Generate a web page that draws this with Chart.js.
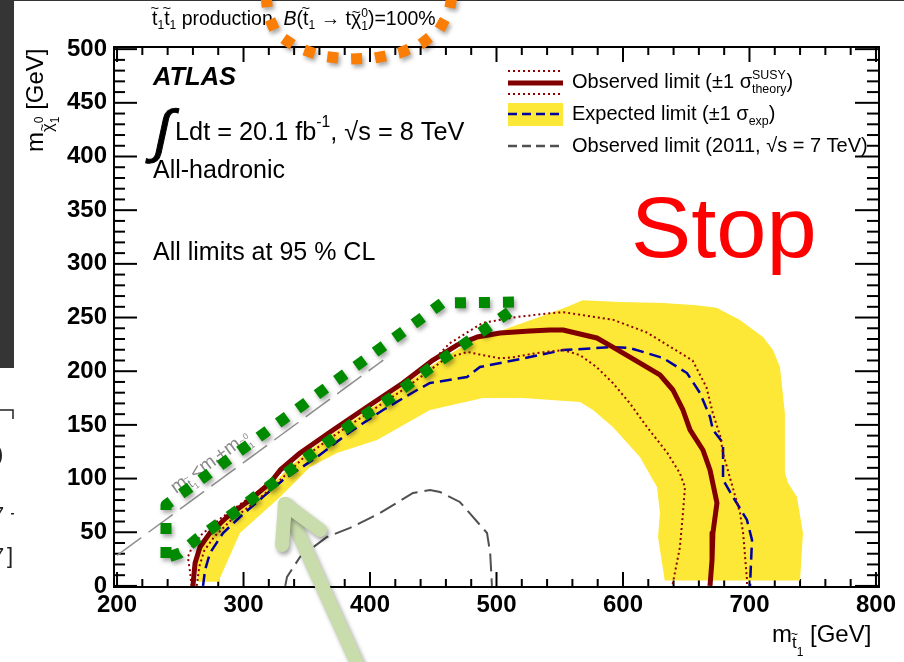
<!DOCTYPE html>
<html>
<head>
<meta charset="utf-8">
<script src="https://cdn.jsdelivr.net/npm/chart.js@4/dist/chart.umd.min.js"></script>
<style>
  html, body { margin: 0; padding: 0; background: #fff; overflow: hidden; }
  canvas { display: block; }
</style>
</head>
<body>
<canvas id="c" width="904" height="662"></canvas>
<script>
// Stop-pair search, all-hadronic channel: exclusion contours in the (m_stop, m_LSP) plane [GeV]

// Observed limit
const obsMass = [260, 261.7, 265.6, 273.5, 287, 305, 321, 329, 344.7, 370.8, 397.6, 426, 449.8, 468.8, 484.6, 502.8, 526.5, 542.3, 552.6, 579.4, 592, 605.5, 629.2, 639.5, 647.4, 653, 663.2, 668.8, 674.3, 671.1, 670.4, 668.8];
const obsLsp  = [0, 21.4, 36.3, 49.4, 64.2, 80.1, 95.9, 108, 123.8, 145.3, 166.7, 189, 210.4, 224.4, 231.8, 235.6, 237.4, 238.4, 238.4, 230.9, 222.5, 213.2, 196.5, 182.5, 163.9, 145.3, 126.6, 108, 77.3, 49.3, 24.2, 0];

// Observed limit, +1 sigma (theory)
const obsUpMass = [259, 257.5, 256, 260, 267, 282, 302, 320, 342, 368, 396, 425, 449, 463, 489, 516, 542, 553, 592, 619, 655, 666, 671, 677, 679, 685, 692.5, 695, 698, 698];
const obsUpLsp  = [0, 15, 27, 38, 48, 63, 80, 95, 121, 143, 165, 188, 209, 226, 245, 250.5, 254, 255, 248, 236, 210, 185, 161, 139, 124, 99, 68, 49, 6, 0];

// Observed limit, -1 sigma (theory)
const obsDnMass = [263, 265, 269, 277, 290, 308, 324, 348, 374, 401, 429, 452, 460, 477, 489, 503, 513, 532, 553, 566, 579, 592, 605.5, 619, 635, 645, 649, 647.4, 645, 640, 639];
const obsDnLsp  = [0, 18, 33, 46, 61, 77, 93, 120, 142, 163, 185, 205, 212, 218, 215, 212, 213, 217, 219.7, 215, 204, 189, 170, 148, 124, 105, 92, 68, 36, 6, 0];

// Expected limit
const expMass = [268, 269.6, 273.5, 283.8, 297.2, 315.4, 331.2, 358.1, 384.2, 410.3, 437.2, 447.4, 476.7, 486.9, 526.5, 552.6, 592, 605.5, 631.6, 650.6, 660.9, 668.8, 671.1, 679.1, 679.1, 687, 698, 702, 700.4];
const expLsp  = [0, 14.9, 30.7, 49.3, 64.2, 82.9, 98.7, 120.1, 143.4, 163.9, 182.5, 189, 194.6, 203.9, 213.2, 219.7, 222.5, 221.6, 212.3, 198.3, 179.7, 157.4, 145.3, 133.1, 98.7, 82.9, 61.5, 42.8, 0];

// Expected limit +-1 sigma band: outer edge, then inner edge running back
const bandOuterMass = [264, 263, 267, 275, 288, 306, 322, 346, 372, 399, 427, 451, 470, 486, 511, 534, 556, 568, 598, 632, 658, 674, 692.5, 710.7, 718.6, 724.1, 728, 728, 730.4, 737.5, 742.3, 740];
const bandOuterLsp  = [4, 20, 35, 48, 62, 78, 94, 121, 143, 164, 187, 207, 221, 230, 241, 250.5, 260, 266, 264.5, 263.5, 261.5, 259, 247.7, 231.8, 219.7, 203.9, 161, 106, 96, 83, 49.3, 5];
const bandInnerMass = [633, 627.7, 629.2, 626.9, 613.4, 592, 576.3, 566, 520.9, 489.3, 447.4, 405.5, 373.9, 352.6, 328.9, 297.2, 281.4, 281];
const bandInnerLsp  = [5, 45.6, 68, 92.2, 120.1, 148, 163.9, 171.3, 175, 175, 163.9, 135.9, 123.8, 110.8, 82.9, 49.3, 7.4, 4];

// Observed limit from 2011 data (sqrt(s) = 7 TeV)
const obs2011Mass = [333, 334.4, 344.7, 366, 384.2, 408, 434, 447.4, 455.3, 471, 492.5, 495, 496.4];
const obs2011Lsp  = [0, 8.4, 27, 45.6, 54, 68, 86.6, 89.4, 87.5, 78.2, 49.3, 30.7, 0];

// Kinematic boundary m_stop = m_top + m_LSP
const kinMass = [200, 410.5];
const kinLsp  = [28.5, 210.4];

// Highlight outline around the compressed region
const ringMass = [238.7, 238.7, 447.4, 456.9, 514.6, 512.3, 479, 447.4, 417.4, 386.6, 354.9, 326.5, 295.7, 264, 249.8, 238.7];
const ringLsp  = [26, 75.4, 255.1, 263.5, 264.4, 257, 229, 203, 176, 151.8, 123.8, 98.7, 70.8, 44.7, 30.7, 26];

// Highlight arc under the process line
const arcMass = [317.8, 319.4, 325.7, 341.5, 362.1, 382.6, 403.2, 422.9, 440.3, 454.5, 462.5, 464.8];
const arcLsp  = [549.4, 531.7, 514.9, 501.9, 493.5, 490.7, 491.6, 496.3, 504.7, 517.7, 534.5, 549.4];

// Pointer arrow
const arrowHeadMass = [330.4, 332.8, 360.5];
const arrowHeadLsp  = [38.2, 76.4, 52.1];
const arrowShaftMass = [332.8, 392.1];
const arrowShaftLsp  = [76.4, -78.2];

// Axis ticks
const xTicks = [200, 300, 400, 500, 600, 700, 800];
const yTicks = [0, 50, 100, 150, 200, 250, 300, 350, 400, 450, 500];

const FONT = '"Liberation Sans", Arial, Helvetica, sans-serif';
const pts = (xs, ys) => xs.map((x, i) => ({ x: x, y: ys[i] }));

const C_OBS = '#800000';
const C_OBS_BAND = '#8e0000';
const C_EXP = '#0000a0';
const C_YEL = 'rgb(253,231,55)';
const C_2011 = '#505050';
const C_GREEN = 'rgb(0,138,0)';
const C_ORANGE = 'rgb(250,125,5)';
const C_ARROW = 'rgb(200,220,172)';

// Text with sub/superscripts and tilde accents
function rich(ctx, x, y, parts, size, opt) {
  opt = opt || {};
  let cx = x;
  ctx.textBaseline = 'alphabetic';
  ctx.textAlign = 'left';
  for (const p of parts) {
    const s = size * (p.s || 1);
    ctx.font = (p.it || opt.it ? 'italic ' : '') + (p.b || opt.b ? 'bold ' : '') + s + 'px ' + FONT;
    const w = ctx.measureText(p.t).width;
    const yy = y + (p.dy || 0);
    ctx.fillText(p.t, cx, yy);
    if (p.tl) {
      ctx.font = (s * 0.75) + 'px ' + FONT;
      ctx.textAlign = 'center';
      ctx.fillText('~', cx + w / 2, yy - s * (p.tly || 0.62));
      ctx.textAlign = 'left';
    }
    if (!p.stay) cx += w;
  }
  return cx;
}

function seg(ctx, x1, y1, x2, y2) {
  ctx.beginPath(); ctx.moveTo(x1, y1); ctx.lineTo(x2, y2); ctx.stroke();
}

const backdrop = {
  id: 'backdrop',
  beforeDraw(chart) {
    const ctx = chart.ctx;
    ctx.save();
    ctx.fillStyle = '#fff';
    ctx.fillRect(0, 0, chart.width, chart.height);
    ctx.fillStyle = '#353535';
    ctx.fillRect(0, 0, 14, 368);
    ctx.fillRect(0, 0, chart.width, 1);
    // edge of the neighbouring slide element
    ctx.strokeStyle = '#222'; ctx.lineWidth = 1.5;
    ctx.beginPath(); ctx.moveTo(0, 410); ctx.lineTo(13, 410); ctx.lineTo(13, 419); ctx.stroke();
    ctx.fillStyle = '#222';
    ctx.font = '22px ' + FONT;
    ctx.fillText(')', -4, 461);
    ctx.fillText('7', -8, 522);
    ctx.fillRect(11, 513, 3, 1.5);
    ctx.fillText('7', -8, 563);
    ctx.fillText(']', 7, 563);
    ctx.restore();
  }
};

const frame = {
  id: 'frame',
  beforeDatasetsDraw(chart) {
    const ctx = chart.ctx, a = chart.chartArea;
    const xs = chart.scales.x, ys = chart.scales.y;
    ctx.save();

    // process line above the frame
    ctx.fillStyle = '#000';
    rich(ctx, 152, 25, [
      { t: 't', tl: 1 }, { t: '1', s: .62, dy: 4 }, { t: 't', tl: 1 }, { t: '1', s: .62, dy: 4 },
      { t: ' production, ' }, { t: 'B', it: 1 }, { t: '(' }, { t: 't', tl: 1 }, { t: '1', s: .62, dy: 4 },
      { t: ' \u2192 t' }, { t: '\u03c7', tl: 1, tly: .42 }, { t: '0', s: .62, dy: -8, stay: 1 }, { t: '1', s: .62, dy: 5 },
      { t: ')=100%' }
    ], 19.5);

    // frame and inward ticks
    ctx.strokeStyle = '#000';
    ctx.lineWidth = 2;
    ctx.strokeRect(a.left, a.top, a.right - a.left, a.bottom - a.top);
    for (let v = 200; v <= 800; v += 20) {
      const px = xs.getPixelForValue(v);
      const L = v % 100 === 0 ? 15 : 8;
      seg(ctx, px, a.bottom, px, a.bottom - L);
      seg(ctx, px, a.top, px, a.top + L);
    }
    for (let v = 0; v <= 500; v += 10) {
      const py = ys.getPixelForValue(v);
      const major = v % 50 === 0;
      seg(ctx, a.left, py, a.left + (major ? 23 : 11), py);
      seg(ctx, a.right, py, a.right - (major ? 24 : 12), py);
    }

    // tick labels
    ctx.fillStyle = '#000';
    ctx.font = 'bold 24px ' + FONT;
    ctx.textAlign = 'center'; ctx.textBaseline = 'alphabetic';
    xTicks.forEach(v => ctx.fillText(String(v), xs.getPixelForValue(v), 612));
    ctx.textAlign = 'right'; ctx.textBaseline = 'middle';
    yTicks.forEach(v => ctx.fillText(String(v), 107, ys.getPixelForValue(v)));

    // axis titles
    rich(ctx, 772, 642, [{ t: 'm' }, { t: 't', s: .7, dy: 6, tl: 1 }, { t: '1', s: .5, dy: 14 }, { t: ' [GeV]' }], 24);
    ctx.save();
    ctx.translate(43, 152);
    ctx.rotate(-Math.PI / 2);
    rich(ctx, 0, 0, [{ t: 'm' }, { t: '\u03c7', s: .7, dy: 10, tl: 1, tly: .42 }, { t: '0', s: .5, dy: 0, stay: 1 }, { t: '1', s: .5, dy: 16 }, { t: ' [GeV]' }], 24);
    ctx.restore();

    // labels inside the frame
    rich(ctx, 153, 85, [{ t: 'ATLAS' }], 25.5, { b: 1, it: 1 });
    ctx.save();
    ctx.translate(159, 151);
    ctx.transform(1, 0, -0.22, 1, 0, 0);
    ctx.font = '58px ' + FONT;
    ctx.textAlign = 'center';
    ctx.lineWidth = 1;
    ctx.strokeStyle = '#000';
    ctx.fillText('\u222b', 0, 0);
    ctx.strokeText('\u222b', 0, 0);
    ctx.restore();
    rich(ctx, 175, 140, [{ t: 'Ldt = 20.1 fb' }, { t: '-1', s: .62, dy: -13 }, { t: ', \u221as = 8 TeV' }], 25.3);
    rich(ctx, 153, 178, [{ t: 'All-hadronic' }], 25);
    rich(ctx, 153, 260, [{ t: 'All limits at 95 % CL' }], 25);

    ctx.save();
    ctx.fillStyle = '#ff0000';
    ctx.font = '86px ' + FONT;
    ctx.textAlign = 'left'; ctx.textBaseline = 'alphabetic';
    ctx.translate(631, 257);
    ctx.scale(1.05, 1);
    ctx.fillText('Stop', 0, 0);
    ctx.restore();

    // legend
    const lx0 = 508, lx1 = 563;
    ctx.lineCap = 'butt';
    ctx.strokeStyle = C_OBS_BAND; ctx.lineWidth = 2; ctx.setLineDash([2, 3]);
    seg(ctx, lx0, 71, lx1, 71); seg(ctx, lx0, 94, lx1, 94);
    ctx.setLineDash([]);
    ctx.strokeStyle = C_OBS; ctx.lineWidth = 5;
    seg(ctx, lx0, 83, lx1, 83);
    ctx.fillStyle = C_YEL; ctx.fillRect(lx0, 103, lx1 - lx0, 23);
    ctx.strokeStyle = C_EXP; ctx.lineWidth = 2.5; ctx.setLineDash([9, 5]);
    seg(ctx, lx0, 114, lx1, 114);
    ctx.strokeStyle = C_2011;
    seg(ctx, lx0, 146, lx1, 146);
    ctx.setLineDash([]);
    ctx.fillStyle = '#000';
    rich(ctx, 572, 88, [{ t: 'Observed limit (\u00b11 ' }, { t: '\u03c3' }, { t: 'SUSY', s: .62, dy: -9, stay: 1 }, { t: 'theory', s: .62, dy: 5 }, { t: ')' }], 20);
    rich(ctx, 572, 120, [{ t: 'Expected limit (\u00b11 ' }, { t: '\u03c3' }, { t: 'exp', s: .62, dy: 5 }, { t: ')' }], 20);
    rich(ctx, 572, 152, [{ t: 'Observed limit (2011, \u221as = 7 TeV)' }], 20);

    // label along the kinematic boundary
    ctx.fillStyle = '#8a8a8a';
    ctx.save();
    ctx.translate(176, 494);
    ctx.rotate(-36 * Math.PI / 180);
    rich(ctx, 0, 0, [
      { t: 'm' }, { t: 't', s: .65, dy: 4, tl: 1 }, { t: '1', s: .45, dy: 8 }, { t: '<m' }, { t: 't', s: .65, dy: 4 },
      { t: '+m' }, { t: '\u03c7', s: .65, dy: 4, tl: 1, tly: .42 }, { t: '0', s: .45, dy: -3, stay: 1 }, { t: '1', s: .45, dy: 8 }
    ], 19);
    ctx.restore();

    ctx.restore();
  }
};

// soft drop shadow for the highlight marks
const shade = {
  id: 'shade',
  beforeDatasetDraw(chart, args) {
    const ds = chart.data.datasets[args.index];
    if (!ds.shadow) return;
    const ctx = chart.ctx;
    ctx.save();
    ctx.shadowColor = 'rgba(0,0,0,0.35)';
    ctx.shadowBlur = 4;
    ctx.shadowOffsetX = 2;
    ctx.shadowOffsetY = 3;
  },
  afterDatasetDraw(chart, args) {
    const ds = chart.data.datasets[args.index];
    if (!ds.shadow) return;
    chart.ctx.restore();
  }
};

const lineDs = (data, color, width, dash, extra) => Object.assign({
  data: data, borderColor: color, borderWidth: width, borderDash: dash || [],
  pointRadius: 0, fill: false, tension: 0
}, extra || {});

new Chart(document.getElementById('c'), {
  type: 'line',
  data: {
    datasets: [
      lineDs(pts(arrowHeadMass, arrowHeadLsp), C_ARROW, 14, [], { clip: false, borderCapStyle: 'round', borderJoinStyle: 'round', shadow: true }),
      lineDs(pts(arrowShaftMass, arrowShaftLsp), C_ARROW, 14, [], { clip: false, borderCapStyle: 'round', shadow: true }),
      lineDs(pts(arcMass, arcLsp), C_ORANGE, 11, [11, 13], { clip: false, shadow: true }),
      lineDs(pts(ringMass, ringLsp), C_GREEN, 11, [11, 13], { clip: false, borderJoinStyle: 'round', shadow: true }),
      lineDs(pts(obsMass, obsLsp), C_OBS, 5, [], { borderJoinStyle: 'round' }),
      lineDs(pts(obsUpMass, obsUpLsp), C_OBS_BAND, 2, [2, 3]),
      lineDs(pts(obsDnMass, obsDnLsp), C_OBS_BAND, 2, [2, 3]),
      lineDs(pts(expMass, expLsp), C_EXP, 2.5, [12, 6]),
      lineDs(pts(obs2011Mass, obs2011Lsp), C_2011, 2, [18, 7]),
      lineDs(pts(kinMass, kinLsp), '#909090', 1.5, [30, 9]),
      {
        data: pts(bandOuterMass.concat(bandInnerMass), bandOuterLsp.concat(bandInnerLsp)),
        borderColor: 'rgba(0,0,0,0)', borderWidth: 0, backgroundColor: C_YEL,
        fill: 'shape', pointRadius: 0, tension: 0
      }
    ]
  },
  options: {
    responsive: false,
    animation: false,
    devicePixelRatio: 1,
    layout: { padding: { left: 114, right: 25, top: 47, bottom: 75 } },
    scales: {
      x: { type: 'linear', min: 197.6, max: 802.4, display: false },
      y: { type: 'linear', min: -1, max: 502, display: false }
    },
    plugins: { legend: { display: false }, tooltip: { enabled: false } },
    events: []
  },
  plugins: [backdrop, frame, shade]
});
</script>
</body>
</html>
